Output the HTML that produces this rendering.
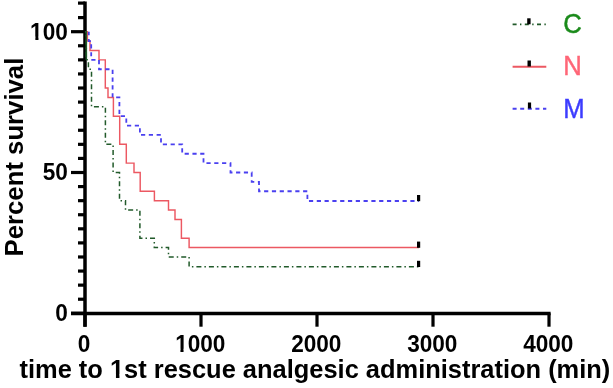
<!DOCTYPE html>
<html><head><meta charset="utf-8"><style>
html,body{margin:0;padding:0;background:#fff;}
svg{display:block;filter:blur(0.4px);}
text{font-kerning:none;}
</style></head><body>
<svg width="613" height="388" viewBox="0 0 613 388">
<rect width="613" height="388" fill="#fff"/>
<g stroke="#000" stroke-width="3.2" stroke-linecap="butt">
<line x1="85" y1="1.4" x2="85" y2="326.7" stroke-width="3.5"/>
<line x1="71" y1="313.40000000000003" x2="550.6" y2="313.40000000000003" stroke-width="3.5"/>
<line x1="71" y1="313.30" x2="85" y2="313.30"/>
<line x1="78" y1="299.22" x2="85" y2="299.22"/>
<line x1="78" y1="285.14" x2="85" y2="285.14"/>
<line x1="78" y1="271.06" x2="85" y2="271.06"/>
<line x1="78" y1="256.98" x2="85" y2="256.98"/>
<line x1="78" y1="242.90" x2="85" y2="242.90"/>
<line x1="78" y1="228.82" x2="85" y2="228.82"/>
<line x1="78" y1="214.74" x2="85" y2="214.74"/>
<line x1="78" y1="200.66" x2="85" y2="200.66"/>
<line x1="78" y1="186.58" x2="85" y2="186.58"/>
<line x1="71" y1="172.50" x2="85" y2="172.50"/>
<line x1="78" y1="158.42" x2="85" y2="158.42"/>
<line x1="78" y1="144.34" x2="85" y2="144.34"/>
<line x1="78" y1="130.26" x2="85" y2="130.26"/>
<line x1="78" y1="116.18" x2="85" y2="116.18"/>
<line x1="78" y1="102.10" x2="85" y2="102.10"/>
<line x1="78" y1="88.02" x2="85" y2="88.02"/>
<line x1="78" y1="73.94" x2="85" y2="73.94"/>
<line x1="78" y1="59.86" x2="85" y2="59.86"/>
<line x1="78" y1="45.78" x2="85" y2="45.78"/>
<line x1="71" y1="31.70" x2="85" y2="31.70"/>
<line x1="78" y1="17.62" x2="85" y2="17.62"/>
<line x1="78" y1="3.10" x2="85" y2="3.10"/>
<line x1="85" y1="313.3" x2="85" y2="326.7"/>
<line x1="201" y1="313.3" x2="201" y2="326.7"/>
<line x1="317" y1="313.3" x2="317" y2="326.7"/>
<line x1="433" y1="313.3" x2="433" y2="326.7"/>
<line x1="549" y1="313.3" x2="549" y2="326.7"/>
</g>
<g fill="none" stroke-linejoin="miter" stroke-linecap="butt">
<path d="M85.8,31.70H87.4V41.09H90.0V50.47H99.0V59.86H105.3V88.02H108.0V97.41H113.4V116.18H119.7V144.34H126.3V163.11H134.0V172.50H140.2V191.27H154.4V200.66H168.5V210.05H175.0V219.43H181.4V238.21H189.1V247.59H419.0" stroke="#ec5862" stroke-width="1.45"/>
<path d="M88.8,31.70V41.09H91.2V59.86H99.0V69.25H112.6V97.41H119.4V116.18H126.3V125.57H139.9V134.95H161.0V144.34H182.2V153.73H203.5V163.11H230.5V172.50H251.7V181.89H259.0V191.27H307.4V201.00H419.0" stroke="#4a40f0" stroke-width="1.8" stroke-dasharray="4.2 3.6" stroke-dashoffset="0.54"/>
<path d="M85.0,31.70H86.3V59.86H88.4V69.25H91.5V106.79H105.4V144.34H113.1V172.50H119.5V200.66H125.5V210.05H139.9V238.21H154.3V247.59H168.5V256.98H189.1V266.80H419.0" stroke="#215a2a" stroke-width="1.5" stroke-dasharray="5 3 1.5 3" stroke-dashoffset="3.50"/>
</g>
<path d="M86.3,31.7V59.9" stroke="#215a2a" stroke-width="1.6" fill="none"/>
<g fill="#000">
<rect x="417" y="195.00" width="3.2" height="6.2"/>
<rect x="417" y="241.59" width="3.2" height="6.2"/>
<rect x="417" y="260.80" width="3.2" height="6.2"/>
</g>
<g font-family="'Liberation Sans', Arial, sans-serif" font-weight="bold" fill="#000">
<g font-size="22.6">
<g transform="translate(30.09,39.60) scale(1.0000,1.0770)"><text x="0" y="0">100</text><rect x="0.33" y="-2.76" width="4.94" height="3.97" fill="#fff"/><rect x="8.38" y="-2.76" width="4.65" height="3.97" fill="#fff"/></g>
<g transform="translate(42.66,180.40) scale(1.0000,1.0770)"><text x="0" y="0">50</text></g>
<g transform="translate(55.23,320.60) scale(1.0000,1.0770)"><text x="0" y="0">0</text></g>
<g transform="translate(77.72,351.80) scale(1.0000,1.0770)"><text x="0" y="0">0</text></g>
<g transform="translate(175.16,351.80) scale(1.0000,1.0770)"><text x="0" y="0">1000</text><rect x="0.33" y="-2.76" width="4.94" height="3.97" fill="#fff"/><rect x="8.38" y="-2.76" width="4.65" height="3.97" fill="#fff"/></g>
<g transform="translate(291.16,351.80) scale(1.0000,1.0770)"><text x="0" y="0">2000</text></g>
<g transform="translate(407.16,351.80) scale(1.0000,1.0770)"><text x="0" y="0">3000</text></g>
<g transform="translate(523.16,351.80) scale(1.0000,1.0770)"><text x="0" y="0">4000</text></g>
</g>
<g font-size="25.35">
<g transform="translate(19.50,377.60) scale(1.0040,1.0300)"><text x="0" y="0">time to 1st rescue analgesic administration (min)</text><rect x="90.51" y="-3.09" width="5.55" height="4.46" fill="#fff"/><rect x="99.53" y="-3.09" width="5.21" height="4.46" fill="#fff"/></g>
</g>
<g font-size="25.73">
<g transform="translate(22.6,256.4) rotate(-90)"><g transform="translate(0.00,0.00) scale(1.0000,1.0000)"><text x="0" y="0">Percent survival</text></g></g>
</g>
</g>
<g>
<path d="M512.6,24.3H546.3" stroke="#215a2a" stroke-width="1.8" stroke-dasharray="4 3.4 1.4 3.4" fill="none"/>
<rect x="527.2" y="18.3" width="3.4" height="6"/>
<path d="M512.6,66.8H546.3" stroke="#ec5862" stroke-width="2.0" fill="none"/>
<rect x="527.5" y="60.5" width="3.4" height="6"/>
<path d="M512.6,108.7H546.3" stroke="#4a40f0" stroke-width="1.9" stroke-dasharray="4 3.6" fill="none"/>
<rect x="527.9" y="102.5" width="3.2" height="6"/>
</g>
<g font-family="'Liberation Sans', Arial, sans-serif" font-size="25.7" stroke-width="0.4">
<text transform="translate(563.3,33.2) scale(1,1.06)" fill="#1a8a1a" stroke="#1a8a1a">C</text>
<text transform="translate(563.3,75.1) scale(1,1.06)" fill="#ff6677" stroke="#ff6677">N</text>
<text transform="translate(563.3,117.5) scale(1,1.06)" fill="#3c3cff" stroke="#3c3cff">M</text>
</g>
</svg>
</body></html>
